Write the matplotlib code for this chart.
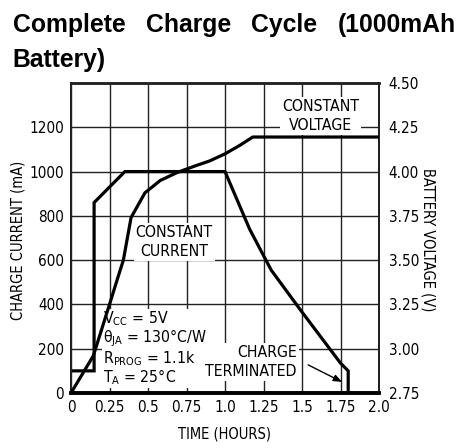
import matplotlib
matplotlib.use("Agg")
import matplotlib.pyplot as plt
from matplotlib import font_manager

# --- data ---
time_current = [0, 0.15, 0.15, 0.25, 0.35, 1.0, 1.16, 1.30, 1.49, 1.75, 1.80, 1.80]
charge_current = [100, 100, 860, 930, 1000, 1000, 740, 555, 375, 135, 100, 0]

time_voltage = [0, 0.145, 0.25, 0.30, 0.34, 0.39, 0.48, 0.58, 0.69, 0.80, 0.90,
                1.0, 1.10, 1.18, 2.0]
battery_voltage = [2.75, 2.96, 3.25, 3.39, 3.50, 3.74, 3.88, 3.95, 3.995, 4.03,
                   4.06, 4.10, 4.15, 4.195, 4.195]

x_ticks = [0, 0.25, 0.5, 0.75, 1.0, 1.25, 1.5, 1.75, 2.0]
x_labels = ["0", "0.25", "0.5", "0.75", "1.0", "1.25", "1.5", "1.75", "2.0"]
y_ticks = [0, 200, 400, 600, 800, 1000, 1200]
v_ticks = [2.75, 3.00, 3.25, 3.50, 3.75, 4.00, 4.25, 4.50]

title_words = ["Complete", "Charge", "Cycle", "(1000mAh"]
title_line2 = "Battery)"
conditions = ("$\\mathregular{V_{CC}}$ = 5V\n"
              "$\\mathregular{\u03b8_{JA}}$ = 130\u00b0C/W\n"
              "$\\mathregular{R_{PROG}}$ = 1.1k\n"
              "$\\mathregular{T_{A}}$ = 25\u00b0C")

# pick a condensed face if one is installed, else fall back to Roboto
entries = font_manager.fontManager.ttflist
names = {f.name for f in entries}
stretch = "normal"
if "Liberation Sans Narrow" in names:
    face = "Liberation Sans Narrow"
elif any(f.name == "DejaVu Sans" and str(f.stretch) in ("condensed", "semi-condensed")
         for f in entries):
    face, stretch = "DejaVu Sans", "condensed"
else:
    face = "Roboto"
plt.rcParams["font.family"] = [face, "DejaVu Sans"]
plt.rcParams["font.stretch"] = stretch
plt.rcParams["mathtext.default"] = "regular"
small = 10.5 if face != "Roboto" else 10

W, H = 472, 448
fig = plt.figure(figsize=(W / 100, H / 100), dpi=100)
ax = fig.add_axes([71 / W, 1 - 393 / H, (379 - 71) / W, (393 - 83) / H])
ax2 = ax.twinx()

ax.set_xlim(0, 2.0)
ax.set_ylim(0, 1400)
ax2.set_ylim(2.75, 4.50)

ax.set_xticks(x_ticks)
ax.set_xticklabels(x_labels)
ax.set_yticks(y_ticks)
ax2.set_yticks(v_ticks)
ax2.set_yticklabels([f"{v:.2f}" for v in v_ticks])

ax.tick_params(length=0, labelsize=small + 0.5, pad=5)
ax2.tick_params(length=0, labelsize=small + 0.5, pad=7)

ax.set_axisbelow(True)
ax.grid(True, color="#222222", lw=1.0)
for a in (ax, ax2):
    for s in a.spines.values():
        s.set_linewidth(1.4)
        s.set_color("#222222")
    a.spines["top"].set_linewidth(1.8)
    a.spines["bottom"].set_linewidth(2.6)
    a.spines["bottom"].set_color("black")

ax.plot(time_current, charge_current, color="black", lw=2.3, zorder=3,
        solid_joinstyle="miter")
ax2.plot(time_voltage, battery_voltage, color="black", lw=2.3, zorder=3,
         solid_joinstyle="round")

box = dict(facecolor="white", edgecolor="none", pad=1.5)
ax.text(0.67, 682, "CONSTANT\nCURRENT", ha="center", va="center", fontsize=small + 0.8,
        linespacing=1.3, bbox=box, zorder=2)
ax.text(1.62, 1250, "CONSTANT\nVOLTAGE", ha="center", va="center", fontsize=small + 0.8,
        linespacing=1.3, bbox=box, zorder=2)
ax.text(1.465, 140, "CHARGE\nTERMINATED", ha="right", va="center", fontsize=small + 0.8,
        linespacing=1.3, multialignment="right", bbox=box, zorder=2.2)
ax.text(0.205, 202, conditions, ha="left", va="center", fontsize=small + 0.8,
        linespacing=0.98, bbox=dict(facecolor="white", edgecolor="none", pad=0.3),
        zorder=2)
ax.annotate("", xy=(1.76, 50), xytext=(1.54, 127),
            arrowprops=dict(arrowstyle="-|>,head_length=0.5,head_width=0.2",
                            color="black", lw=1.0, shrinkA=0, shrinkB=0),
            zorder=4)

lab = small - 1.5 if face == "Roboto" else small
fig.text(225 / W, 1 - 434 / H, "TIME (HOURS)", ha="center", va="center", fontsize=lab)
fig.text(18.5 / W, 1 - 240 / H, "CHARGE CURRENT (mA)", ha="center", va="center",
         rotation=90, fontsize=lab)
fig.text(428 / W, 1 - 240 / H, "BATTERY VOLTAGE (V)", ha="center", va="center",
         rotation=-90, fontsize=lab)

# justified bold title, first line spread between the two margins
title_font = dict(family=["Liberation Sans", "DejaVu Sans"], weight="bold",
                  fontsize=17.8, fontstretch="normal")
renderer = fig.canvas.get_renderer()
left_px, right_px = 12.7, 456
words = [fig.text(0, 1 - 32 / H, w, ha="left", va="baseline", **title_font)
         for w in title_words]
widths = [t.get_window_extent(renderer).width for t in words]
gap = (right_px - left_px - sum(widths)) / (len(words) - 1)
x = left_px
for t, w in zip(words, widths):
    t.set_x(x / W)
    x += w + gap
fig.text(left_px / W, 1 - 66.5 / H, title_line2, ha="left", va="baseline", **title_font)

fig.savefig("out.png", dpi=100)
